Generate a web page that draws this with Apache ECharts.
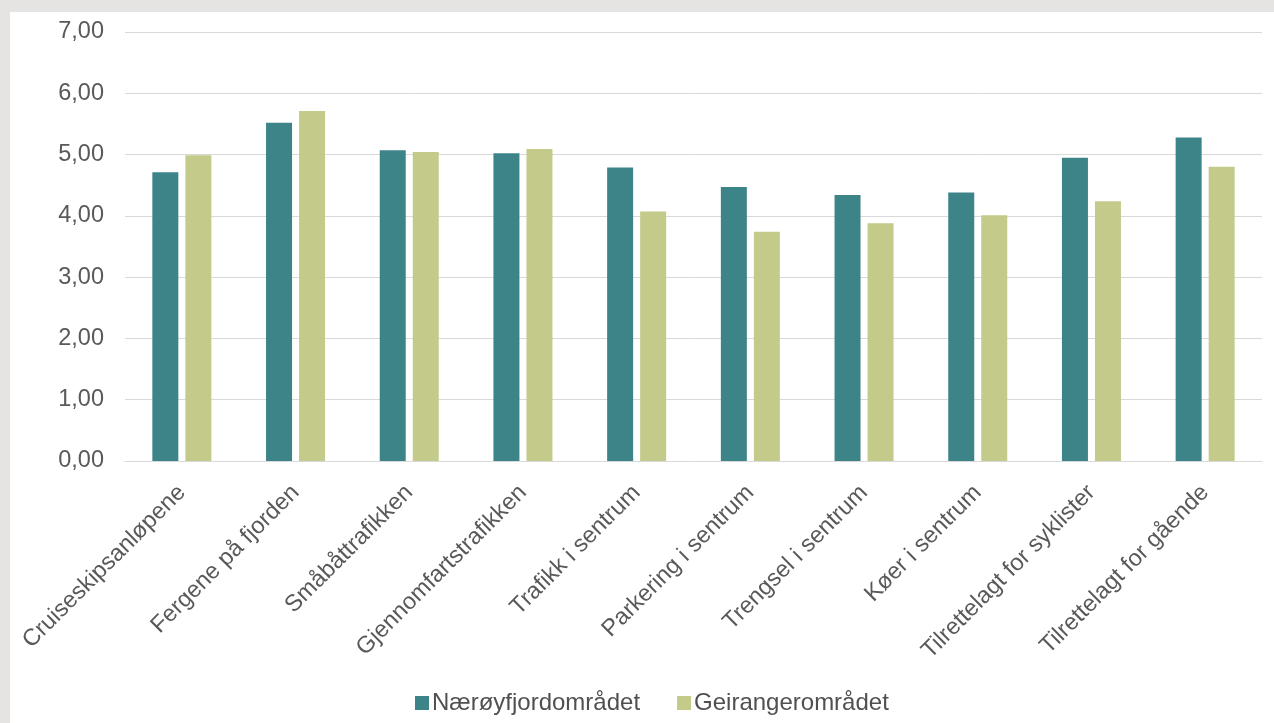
<!DOCTYPE html>
<html>
<head>
<meta charset="utf-8">
<script src="https://cdn.jsdelivr.net/npm/echarts@6/dist/echarts.min.js"></script>
<style>
  html, body { margin: 0; padding: 0; background: #e5e4e2; }
  #chart { position: absolute; left: 10px; top: 12px; width: 1264px; height: 711px; background: #fff; }
</style>
</head>
<body>
<div id="chart"></div>
<script>
  // kategorier
  var categories = ['Cruiseskipsanløpene', 'Fergene på fjorden', 'Småbåttrafikken', 'Gjennomfartstrafikken',
    'Trafikk i sentrum', 'Parkering i sentrum', 'Trengsel i sentrum', 'Køer i sentrum',
    'Tilrettelagt for syklister', 'Tilrettelagt for gående'];
  var seriesNames = ['Nærøyfjordområdet', 'Geirangerområdet'];
  var naeroy = [4.71, 5.52, 5.07, 5.02, 4.79, 4.47, 4.34, 4.38, 4.95, 5.28];
  var geiranger = [4.99, 5.71, 5.04, 5.09, 4.07, 3.74, 3.88, 4.01, 4.24, 4.80];
  var colors = ['#3d8489', '#c4ca8a'];

  var myChart = echarts.init(document.getElementById('chart'));
  myChart.setOption({
    color: colors,
    animation: false,
    textStyle: { fontFamily: 'Liberation Sans, Arial, sans-serif' },
    legend: {
      data: seriesNames,
      left: 400,
      top: 674,
      itemWidth: 14,
      itemHeight: 14,
      itemGap: 37,
      icon: 'rect',
      selectedMode: false,
      textStyle: { color: '#505050', fontSize: 24, padding: [0, 0, 0, -2] }
    },
    grid: { left: 115, right: 12, top: 20, bottom: 262, containLabel: false },
    xAxis: {
      type: 'category',
      data: categories,
      axisTick: { show: false },
      axisLine: { lineStyle: { color: '#d9d9d9', width: 1 } },
      axisLabel: {
        interval: 0,
        rotate: 45,
        margin: 28,
        color: '#595959',
        fontSize: 23.5
      }
    },
    yAxis: {
      type: 'value',
      min: 0,
      max: 7,
      interval: 1,
      axisLine: { show: false },
      axisTick: { show: false },
      splitLine: { lineStyle: { color: '#d9d9d9', width: 1 } },
      axisLabel: {
        margin: 21,
        color: '#595959',
        fontSize: 23.5,
        formatter: function (v) { return v.toFixed(2).replace('.', ','); }
      }
    },
    series: [
      { name: seriesNames[0], type: 'bar', data: naeroy, barWidth: 26, barGap: '27%' },
      { name: seriesNames[1], type: 'bar', data: geiranger, barWidth: 26, barGap: '27%' }
    ]
  });
</script>
</body>
</html>
